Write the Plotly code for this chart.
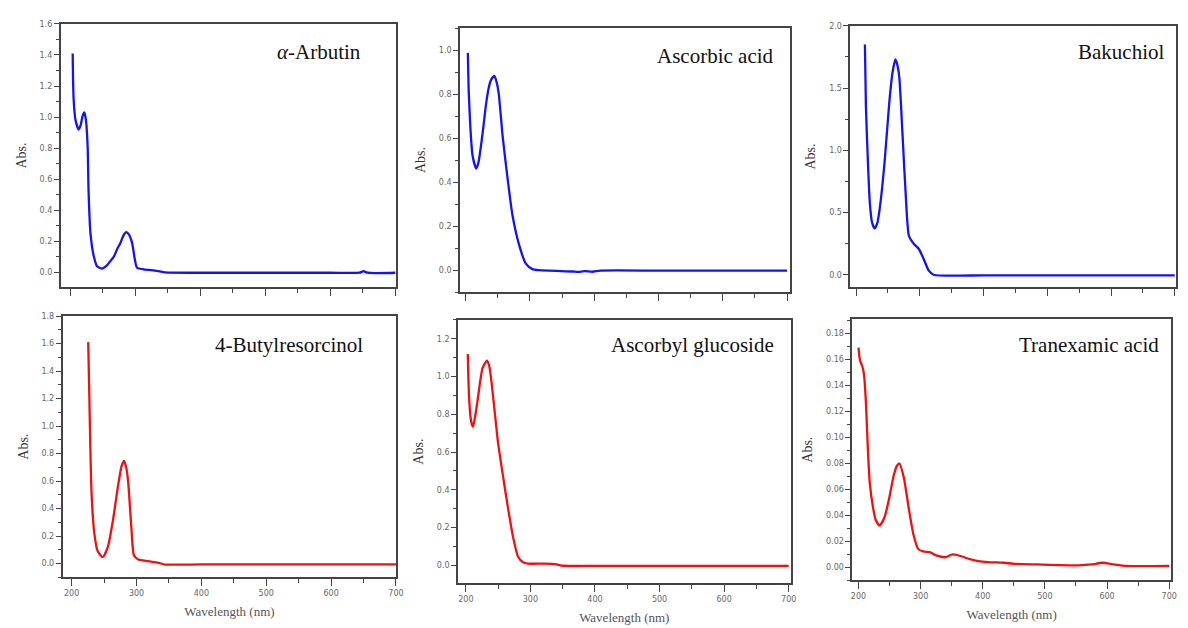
import plotly.graph_objects as go

# ---------------- data ----------------
titles = ["<i>α</i>-Arbutin", "Ascorbic acid", "Bakuchiol",
          "4-Butylresorcinol", "Ascorbyl glucoside", "Tranexamic acid"]

arbutin_wl = [203.6, 205, 208, 212.8, 216, 219, 221.5, 224, 226.7, 228, 231, 236, 241, 248.7,
              255, 261, 266.7, 272, 277, 282, 286, 290, 295, 299, 302.6, 313, 333, 346, 400, 500,
              600, 645, 651, 657, 700]
arbutin_abs = [1.41, 1.12, 0.98, 0.92, 0.95, 1.01, 1.03, 0.98, 0.80, 0.53, 0.25, 0.105, 0.04, 0.025,
               0.04, 0.07, 0.10, 0.15, 0.19, 0.24, 0.26, 0.245, 0.19, 0.09, 0.03, 0.02, 0.01, 0.0,
               -0.002, -0.002, -0.002, -0.002, 0.008, -0.002, -0.002]

ascorbic_wl = [203.6, 205, 207.7, 211, 216.5, 220, 224, 228, 232, 236, 239.7, 244.8, 248, 251.5,
               257.7, 265.5, 273, 283.5, 293.8, 304, 314, 366, 375, 385, 397, 410, 500, 600, 700]
ascorbic_abs = [0.99, 0.81, 0.64, 0.52, 0.463, 0.49, 0.566, 0.66, 0.76, 0.83, 0.867, 0.885, 0.86,
                0.807, 0.61, 0.415, 0.25, 0.113, 0.03, 0.005, 0.0, -0.006, -0.008, -0.004, -0.007,
                -0.002, -0.002, -0.002, -0.002]

bakuchiol_wl = [213.8, 215.4, 218, 221.5, 225, 229, 233, 237, 244.6, 252, 257, 261.5, 264, 267.7,
                273, 278, 283, 290.8, 298.5, 306, 313.8, 321.5, 400, 500, 600, 700]
bakuchiol_abs = [1.85, 1.35, 0.98, 0.58, 0.42, 0.372, 0.41, 0.53, 0.90, 1.38, 1.62, 1.73, 1.70,
                 1.59, 1.11, 0.63, 0.31, 0.247, 0.207, 0.127, 0.035, 0.0, -0.005, -0.005, -0.005,
                 -0.005]

butyl_wl = [225.5, 227, 228.6, 230.7, 235, 240, 248, 255.7, 263.5, 271, 277, 280.7, 284, 287, 292,
            296, 302.6, 318, 333.9, 344, 400, 500, 600, 700]
butyl_abs = [1.61, 1.275, 0.89, 0.505, 0.217, 0.091, 0.048, 0.12, 0.31, 0.55, 0.71, 0.746, 0.70,
             0.60, 0.265, 0.06, 0.029, 0.017, 0.005, -0.007, -0.006, -0.006, -0.006, -0.006]

glucoside_wl = [203, 205, 208, 211, 214, 218, 226, 232.8, 236, 239, 244, 249.5, 257, 265, 273,
                280.7, 288.5, 296, 319.8, 338, 351, 400, 500, 600, 700]
glucoside_abs = [1.12, 0.89, 0.766, 0.734, 0.78, 0.87, 1.046, 1.085, 1.06, 0.993, 0.836, 0.66,
                 0.485, 0.31, 0.152, 0.047, 0.016, 0.009, 0.009, 0.007, -0.002, -0.003, -0.003,
                 -0.003, -0.003]

tranex_wl = [200, 202.6, 206, 209, 212, 214.6, 218, 223.4, 228, 234, 241.7, 249.5, 257, 262, 266,
             273, 280.7, 288.5, 296, 304, 314.6, 325, 340.6, 351, 361.5, 377, 392.7, 408, 434,
             450, 486.5, 554, 575, 593, 611, 632, 700]
tranex_abs = [0.169, 0.159, 0.155, 0.148, 0.127, 0.097, 0.066, 0.046, 0.036, 0.032, 0.038, 0.053,
              0.071, 0.078, 0.0797, 0.069, 0.046, 0.025, 0.014, 0.012, 0.0115, 0.009, 0.0076,
              0.0097, 0.0089, 0.0064, 0.0046, 0.0038, 0.0033, 0.0025, 0.002, 0.0013, 0.002,
              0.0033, 0.002, 0.0008, 0.0008]

series_wl = [arbutin_wl, ascorbic_wl, bakuchiol_wl, butyl_wl, glucoside_wl, tranex_wl]
series_abs = [arbutin_abs, ascorbic_abs, bakuchiol_abs, butyl_abs, glucoside_abs, tranex_abs]
line_colors = ["#1414f0", "#1414f0", "#1414f0", "#ee1111", "#ee1111", "#ee1111"]

y_ranges = [[-0.095, 1.6], [-0.1, 1.104], [-0.1, 2.0], [-0.1, 1.8], [-0.095, 1.3], [-0.0102, 0.191]]
y_dticks = [0.2, 0.2, 0.5, 0.2, 0.2, 0.02]
y_formats = [".1f", ".1f", ".1f", ".1f", ".1f", ".2f"]
x_ranges = [[185, 701.5], [191.2, 704], [190.8, 702], [186, 700.5], [187.7, 703], [190, 703]]

# ---------------- layout geometry (pixels) ----------------
W, H = 1188, 628
boxes = [(60, 398, 20, 285), (462, 794, 24, 290), (855, 1183, 22, 285),
         (62, 398, 314, 577), (460, 795, 318, 583), (857, 1178, 317, 580)]
label_right = [34, 14, 10, 32, 15, 10]
label_down = [28, 28, 26, 29, 25, 26]

fig = go.Figure()
layout = dict(width=W, height=H, margin=dict(l=0, r=0, t=0, b=0),
              paper_bgcolor="white", plot_bgcolor="white", showlegend=False)
annotations = []
axis_col = "#444444"
tick_font = dict(family="DejaVu Sans", size=8, color="#666666")

for i in range(6):
    xa = "x" if i == 0 else f"x{i+1}"
    ya = "y" if i == 0 else f"y{i+1}"
    xl = "xaxis" if i == 0 else f"xaxis{i+1}"
    yl = "yaxis" if i == 0 else f"yaxis{i+1}"
    l, r, t, b = boxes[i]
    bottom_row = i >= 3
    fig.add_trace(go.Scatter(x=series_wl[i], y=series_abs[i], xaxis=xa, yaxis=ya,
                             mode="lines", line=dict(color=line_colors[i], width=2.3,
                                                     shape="spline", smoothing=0.6),
                             hoverinfo="skip"))
    layout[xl] = dict(domain=[l / W, r / W], anchor=ya, range=x_ranges[i],
                      showgrid=False, zeroline=False, showline=True, linecolor=axis_col,
                      linewidth=1.5, mirror=True, ticks="outside", ticklen=7, tickwidth=1.3,
                      tickcolor=axis_col, tick0=200, dtick=100,
                      minor=dict(ticks="outside", ticklen=4, dtick=50, tickcolor=axis_col,
                                 tickwidth=1.2),
                      showticklabels=bottom_row, tickfont=tick_font,
                      title=dict(text="Wavelength (nm)" if bottom_row else "",
                                 font=dict(family="Liberation Serif", size=13, color="#555555"),
                                 standoff=10))
    layout[yl] = dict(domain=[1 - b / H, 1 - t / H], anchor=xa, range=y_ranges[i],
                      showgrid=False, zeroline=False, showline=True, linecolor=axis_col,
                      linewidth=1.5, mirror=True, ticks="outside", ticklen=5, tickwidth=1.2,
                      tickcolor=axis_col, tick0=0, dtick=y_dticks[i], tickformat=y_formats[i],
                      minor=dict(ticks="outside", ticklen=3, dtick=y_dticks[i] / 2,
                                 tickcolor=axis_col, tickwidth=1),
                      tickfont=tick_font,
                      title=dict(text="Abs.", font=dict(family="Liberation Serif", size=14,
                                                        color="#333333"), standoff=10))
    annotations.append(dict(text=titles[i], xref=f"{xa} domain", yref=f"{ya} domain",
                            x=1 - label_right[i] / (r - l), y=1 - label_down[i] / (b - t),
                            xanchor="right", yanchor="middle", showarrow=False,
                            font=dict(family="Liberation Serif", size=21, color="#111111")))

layout["annotations"] = annotations
fig.update_layout(**layout)
fig.write_html("out.html", config={"displayModeBar": False},
               post_script="document.body.style.margin='0';document.body.style.padding='0';"
                           "document.body.style.overflow='hidden';")
